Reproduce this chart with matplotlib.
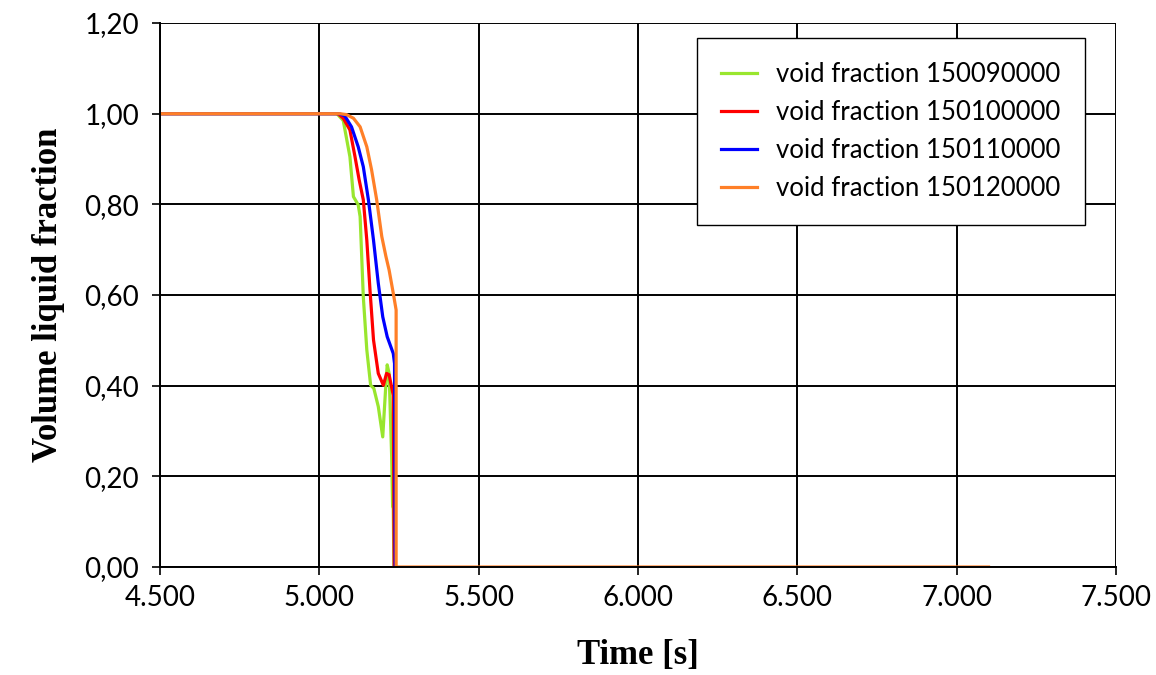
import matplotlib
matplotlib.use("Agg")
import matplotlib.pyplot as plt
from matplotlib.ticker import FuncFormatter

# Data
t_green = [4.5, 5.055, 5.075, 5.096, 5.107, 5.122, 5.128, 5.138, 5.149, 5.161, 5.171, 5.185, 5.199, 5.209, 5.213, 5.219, 5.227, 5.230, 5.232, 5.234]
v_green = [1.0, 1.0, 0.985, 0.905, 0.817, 0.799, 0.773, 0.596, 0.479, 0.401, 0.394, 0.354, 0.287, 0.405, 0.446, 0.427, 0.243, 0.133, 0.13, 0.0]

t_red = [4.5, 5.058, 5.075, 5.096, 5.112, 5.125, 5.138, 5.149, 5.159, 5.170, 5.185, 5.201, 5.211, 5.219, 5.232, 5.235]
v_red = [1.0, 1.0, 0.99, 0.964, 0.905, 0.854, 0.810, 0.721, 0.611, 0.501, 0.427, 0.401, 0.427, 0.424, 0.379, 0.0]

t_blue = [4.5, 5.062, 5.08, 5.101, 5.122, 5.138, 5.154, 5.170, 5.185, 5.199, 5.213, 5.232, 5.236, 5.238]
v_blue = [1.0, 1.0, 0.995, 0.971, 0.927, 0.883, 0.810, 0.721, 0.626, 0.552, 0.508, 0.471, 0.449, 0.0]

t_orange = [4.5, 5.065, 5.085, 5.107, 5.128, 5.149, 5.164, 5.180, 5.196, 5.209, 5.219, 5.232, 5.241, 5.241, 7.10]
v_orange = [1.0, 1.0, 0.998, 0.990, 0.971, 0.927, 0.876, 0.810, 0.729, 0.685, 0.655, 0.604, 0.567, 0.0, 0.0]

labels = ["void fraction 150090000", "void fraction 150100000",
          "void fraction 150110000", "void fraction 150120000"]
colors = ["#99e62e", "#ff0000", "#0000ff", "#ff7f27"]

x_ticks = [4.5, 5.0, 5.5, 6.0, 6.5, 7.0, 7.5]
y_ticks = [0.0, 0.2, 0.4, 0.6, 0.8, 1.0, 1.2]

fig = plt.figure(figsize=(11.56, 6.75), dpi=100)
ax = fig.add_axes([0.1384, 0.16, 0.9654 - 0.1384, 0.9659 - 0.16])

series = [(t_green, v_green), (t_red, v_red), (t_blue, v_blue), (t_orange, v_orange)]
for (t, v), lab, c in zip(series, labels, colors):
    ax.plot(t, v, color=c, lw=2.3, label=lab, solid_joinstyle="round")

ax.set_xlim(4.5, 7.5)
ax.set_ylim(0, 1.2)
ax.set_xticks(x_ticks)
ax.set_yticks(y_ticks)
ax.xaxis.set_major_formatter(FuncFormatter(lambda v, p: f"{v:.3f}"))
ax.yaxis.set_major_formatter(FuncFormatter(lambda v, p: f"{v:.2f}".replace(".", ",")))
ax.grid(True, color="black", lw=1.4)
ax.set_axisbelow(True)
for s in ["top", "right"]:
    ax.spines[s].set_visible(False)
for s in ["left", "bottom"]:
    ax.spines[s].set_color("black")
    ax.spines[s].set_linewidth(1.4)
ax.tick_params(axis="both", direction="out", length=6, width=1.2, labelsize=20)
for lbl in ax.get_xticklabels() + ax.get_yticklabels():
    lbl.set_fontfamily("Lato")
ax.tick_params(axis="x", pad=7)
ax.tick_params(axis="y", pad=9)

ax.set_xlabel("Time [s]", fontfamily="Liberation Serif", fontweight="bold", fontsize=25, labelpad=20)
ax.set_ylabel("Volume liquid fraction", fontfamily="Liberation Serif", fontweight="bold", fontsize=25, labelpad=14)

leg = ax.legend(loc="upper right", bbox_to_anchor=(0.9676, 0.9724), borderaxespad=0.0,
                frameon=True, fancybox=False,
                edgecolor="black", framealpha=1, prop={"family": "Lato", "size": 18.5},
                handlelength=1.4, handletextpad=0.75, borderpad=0.95, labelspacing=0.5)
leg.get_frame().set_linewidth(1.0)

fig.savefig("out.png", dpi=100)
